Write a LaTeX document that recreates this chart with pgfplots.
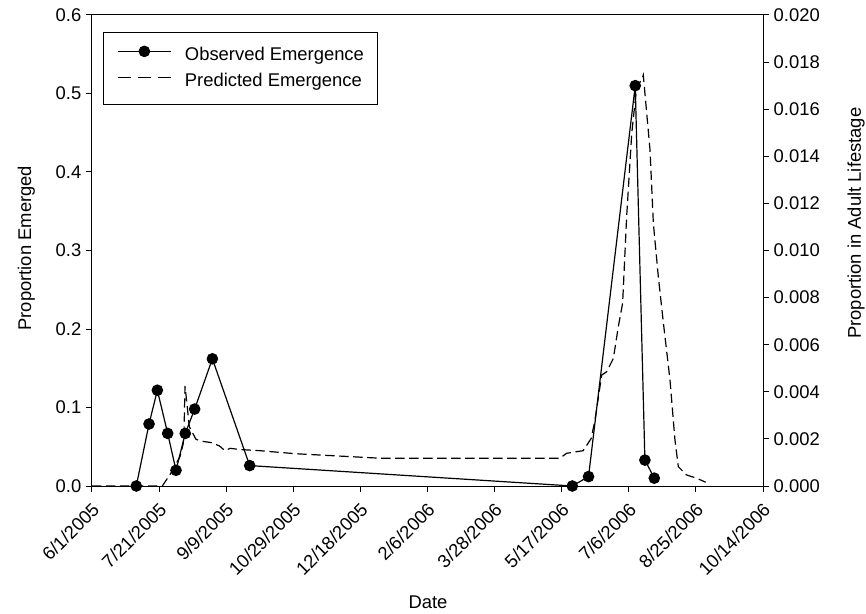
\documentclass[border=0pt]{standalone}
\usepackage{pgfplots}
\pgfplotsset{compat=1.18}
\usepackage{fontspec}
\setmainfont{Liberation Sans}
\newcommand{\chfont}{\fontsize{13.8}{16}\selectfont}
\begin{document}
\begin{tikzpicture}
\pgfplotsset{
  base/.style={
    scale only axis, width=503.25pt, height=353.25pt,
    xmin=0, xmax=500,
    font=\chfont,
    tick style={black, line width=0.75pt},
    major tick length=4.5pt,
    tick align=outside,
    axis line style={black, line width=0.75pt},
    /pgf/number format/assume math mode=true,
    every tick label/.append style={font=\chfont},
  }
}
% Right axis: predicted
\begin{axis}[base,
  ymin=0, ymax=0.02,
  axis y line*=right,
  axis x line=none,
  ytick={0,0.002,0.004,0.006,0.008,0.010,0.012,0.014,0.016,0.018,0.020},
  yticklabel style={/pgf/number format/.cd, fixed, fixed zerofill, precision=3, assume math mode=true},
  scaled y ticks=false,
  ylabel={Proportion in Adult Lifestage},
  ylabel style={at={(axis description cs:1.146,0.558)}, anchor=base, rotate=0},
]
\addplot[black, line width=0.9pt, dash pattern=on 7pt off 3.5pt] coordinates {
(0,0) (52.4,0) (59.4,0.0006) (65.6,0.00125) (68,0.0018) (68.6,0.00238) (69.3,0.00425)
(71,0.00337) (72.5,0.00252) (77.5,0.00198) (82,0.0019) (89.2,0.00184) (95,0.0017)
(99,0.0015) (103,0.0016) (110,0.00155) (125,0.0015) (147.5,0.00139) (155,0.00136)
(214.6,0.00118) (300,0.00118) (348.7,0.00118) (353.7,0.00139) (366,0.0015)
(372,0.00202) (374.8,0.0028) (379.8,0.00471) (383.5,0.00485) (388.5,0.00542)
(392.2,0.00677) (395.4,0.00776) (398.4,0.01144) (402.2,0.01498) (405.9,0.01696)
(409.6,0.01724) (410.8,0.01745) (415.8,0.01427) (418.3,0.01115) (422,0.00889)
(425.8,0.00691) (430.7,0.0045) (434.4,0.00195) (436.9,0.00082) (443,0.00047)
(450.6,0.00033) (457.3,0.00016)
};
\end{axis}
% Left axis: observed
\begin{axis}[base,
  ymin=0, ymax=0.6,
  xtick={0,50,100,150,200,250,300,350,400,450,500},
  xticklabels={6/1/2005,7/21/2005,9/9/2005,10/29/2005,12/18/2005,2/6/2006,3/28/2006,5/17/2006,7/6/2006,8/25/2006,10/14/2006},
  xtick pos=lower, ytick pos=left,
  ytick={0,0.1,0.2,0.3,0.4,0.5,0.6},
  yticklabel style={/pgf/number format/.cd, fixed, fixed zerofill, precision=1, assume math mode=true},
  xticklabel style={rotate=45, anchor=north east, inner sep=2pt, yshift=-2.5pt, xshift=-3.5pt},
  xlabel={Date},
  xlabel style={at={(axis description cs:0.5007,-0.2611)}, anchor=base},
  ylabel={Proportion Emerged},
  ylabel style={at={(axis description cs:-0.0909,0.505)}, anchor=base},
  legend style={at={(axis description cs:0.0168,0.9646)}, anchor=north west,
    draw=black, line width=0.75pt, font=\chfont, inner xsep=10pt, inner ysep=10.5pt,
    row sep=6.5pt, column sep=10pt,
    nodes={inner sep=0pt, text height=10pt, text depth=3pt}},
  legend cell align=left,
  legend image code/.code={\draw[mark repeat=2,mark phase=2,#1] plot coordinates {(0pt,3.5pt) (20pt,3.5pt) (40pt,3.5pt)};},
]
\addplot[black, line width=0.9pt, mark=*, mark size=3.9pt, mark options={solid, fill=black}] coordinates {
(33,0) (42.5,0.079) (48.7,0.122) (56.4,0.067) (62.6,0.020) (69.5,0.067) (76.5,0.098)
(89.7,0.162) (117.5,0.026) (357.9,0) (370,0.012) (404.8,0.510) (412,0.033) (419,0.010)
};
\addlegendentry{Observed Emergence\hspace{3pt}}
\addlegendimage{black, line width=0.9pt, dash pattern=on 10pt off 5pt}
\addlegendentry{Predicted Emergence}
\end{axis}
\pgfresetboundingbox
\path (-69pt,-95.25pt) rectangle (580.5pt,364.5pt);
\end{tikzpicture}
\end{document}
